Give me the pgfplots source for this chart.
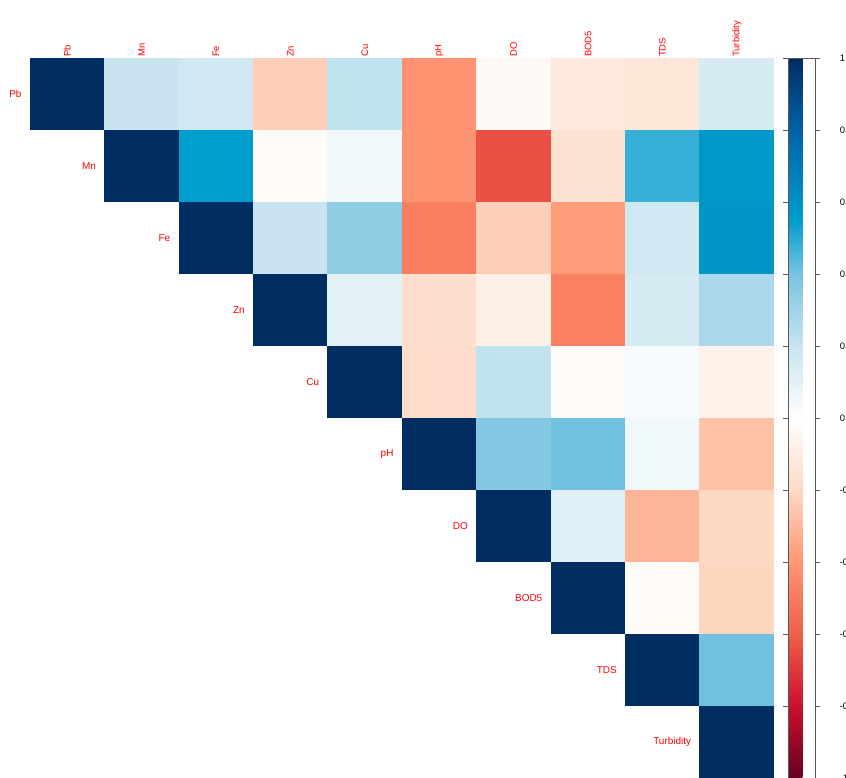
\documentclass[border=0pt]{standalone}
\usepackage{fontspec}
\setmainfont{Liberation Sans}
\usepackage{pgfplots}
\pgfplotsset{compat=1.18}

% one filled cell of the matrix, 744/10 by 720/10
\pgfdeclareplotmark{cell}{%
  \pgfpathrectangle{\pgfpoint{-37.45bp}{-36.25bp}}{\pgfpoint{74.9bp}{72.5bp}}%
  \pgfusepathqfill}

\newcommand{\lab}{\fontsize{9.5}{11}\selectfont}
\newcommand{\rlab}{\fontsize{10}{12}\selectfont}

\begin{document}
\begin{tikzpicture}
\useasboundingbox (0,0) rectangle (846bp,778bp);
\clip (0,0) rectangle (846bp,778bp);
\begin{axis}[
    at={(30bp,0bp)}, anchor=south west,
    scale only axis,
    width=744bp, height=720bp,
    xmin=0.5, xmax=10.5, ymin=0.5, ymax=10.5,
    y dir=reverse,
    clip=false,
    axis line style={draw=none},
    major tick length=0pt,
    xtick={1,...,10},
    xticklabels={Pb,Mn,Fe,Zn,Cu,pH,DO,BOD5,TDS,Turbidity},
    xticklabel pos=upper,
    xticklabel style={rotate=90, anchor=west, font=\lab, text=red, inner sep=1bp},
    ytick=\empty,
    colormap={corr}{
        rgb255(0pt)=(103,0,31)
        rgb255(20pt)=(204,16,46)
        rgb255(40pt)=(240,96,72)
        rgb255(60pt)=(255,150,115)
        rgb255(80pt)=(253,217,196)
        rgb255(100pt)=(255,255,255)
        rgb255(120pt)=(200,228,240)
        rgb255(140pt)=(120,195,225)
        rgb255(155pt)=(0,158,204)
        rgb255(180pt)=(0,98,168)
        rgb255(200pt)=(0,45,98)
    },
    point meta min=-1, point meta max=1,
    colorbar right,
    colorbar shift/.style={xshift=14bp},
    colorbar style={
        width=27bp,
        axis line style={draw=black!65, line width=0.8pt},
        ytick={-1,-0.8,-0.6,-0.4,-0.2,0,0.2,0.4,0.6,0.8,1},
        major tick length=5bp,
        tick align=outside,
        major tick style={draw=black!65},
        yticklabel style={font=\lab, anchor=west, xshift=16bp,
            /pgf/number format/fixed,
            /pgf/number format/assume math mode=true},
    },
]
\addplot[scatter, only marks, mark=cell, point meta=explicit,
    scatter/use mapped color={draw=mapped color, fill=mapped color}]
  table[x=x, y=y, meta=c] {
x y c
1 1 1
2 1 0.20
3 1 0.17
4 1 -0.23
5 1 0.22
6 1 -0.41
7 1 -0.03
8 1 -0.12
9 1 -0.13
10 1 0.15
2 2 1
3 2 0.55
4 2 -0.02
5 2 0.05
6 2 -0.41
7 2 -0.64
8 2 -0.15
9 2 0.48
10 2 0.57
3 3 1
4 3 0.20
5 3 0.34
6 3 -0.49
7 3 -0.23
8 3 -0.38
9 3 0.17
10 3 0.58
4 4 1
5 4 0.10
6 4 -0.17
7 4 -0.08
8 4 -0.48
9 4 0.15
10 4 0.27
5 5 1
6 5 -0.18
7 5 0.22
8 5 -0.02
9 5 0.03
10 5 -0.07
6 6 1
7 6 0.37
8 6 0.41
9 6 0.05
10 6 -0.27
7 7 1
8 7 0.12
9 7 -0.31
10 7 -0.20
8 8 1
9 8 -0.02
10 8 -0.21
9 9 1
10 9 0.41
10 10 1
};
\node[anchor=east, text=red, font=\rlab, xshift=-5bp] at (axis cs:0.5,1) {Pb};
\node[anchor=east, text=red, font=\rlab, xshift=-5bp] at (axis cs:1.5,2) {Mn};
\node[anchor=east, text=red, font=\rlab, xshift=-5bp] at (axis cs:2.5,3) {Fe};
\node[anchor=east, text=red, font=\rlab, xshift=-5bp] at (axis cs:3.5,4) {Zn};
\node[anchor=east, text=red, font=\rlab, xshift=-5bp] at (axis cs:4.5,5) {Cu};
\node[anchor=east, text=red, font=\rlab, xshift=-5bp] at (axis cs:5.5,6) {pH};
\node[anchor=east, text=red, font=\rlab, xshift=-5bp] at (axis cs:6.5,7) {DO};
\node[anchor=east, text=red, font=\rlab, xshift=-5bp] at (axis cs:7.5,8) {BOD5};
\node[anchor=east, text=red, font=\rlab, xshift=-5bp] at (axis cs:8.5,9) {TDS};
\node[anchor=east, text=red, font=\rlab, xshift=-5bp] at (axis cs:9.5,10) {Turbidity};
\end{axis}
\end{tikzpicture}
\end{document}
